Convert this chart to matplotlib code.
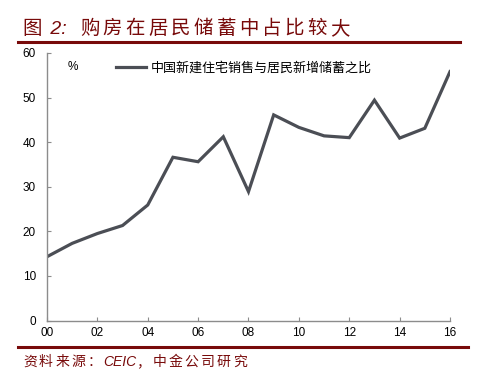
import matplotlib
matplotlib.use("Agg")
import matplotlib.pyplot as plt
from matplotlib.lines import Line2D

plt.rcParams['font.family'] = ['Liberation Sans', 'Noto Sans CJK SC', 'DejaVu Sans']

years = list(range(2000, 2017))
ratio = [14.3, 17.3, 19.5, 21.3, 25.9, 36.6, 35.6, 41.2, 28.9, 46.1,
         43.3, 41.4, 41.0, 49.4, 40.9, 43.1, 55.8]
xtick_years = list(range(2000, 2017, 2))
xtick_labels = ['00', '02', '04', '06', '08', '10', '12', '14', '16']
yticks = [0, 10, 20, 30, 40, 50, 60]

title = '图 2:  购房在居民储蓄中占比较大'
legend_label = '中国新建住宅销售与居民新增储蓄之比'
source = '资料来源：CEIC，中金公司研究'

dark_red = '#780A0A'
line_gray = '#4B4E55'
axis_gray = '#8C8C8C'

fig = plt.figure(figsize=(4.91, 3.85), dpi=100)
renderer = fig.canvas.get_renderer()
W, H = fig.bbox.width, fig.bbox.height


def spaced_text(x_px, y_px, s, extra, latin_gap, **kw):
    # CJK characters one by one with extra spacing, latin runs in one piece (italic)
    runs = []
    for ch in s:
        latin = ord(ch) < 256
        if latin and runs and runs[-1][0]:
            runs[-1][1] += ch
        else:
            runs.append([latin, ch])
    x = x_px
    for latin, txt in runs:
        if latin:
            t = fig.text(x / W, 1 - y_px / H, txt, va='baseline', ha='left',
                         style='italic', family='Liberation Sans', **kw)
            x += t.get_window_extent(renderer).width + latin_gap
        else:
            t = fig.text(x / W, 1 - y_px / H, txt, va='baseline', ha='left',
                         family='Noto Sans CJK SC', **kw)
            x += t.get_window_extent(renderer).width + extra


ax = fig.add_axes([0.0957, 0.1675, 0.8208, 0.6951])

ax.plot(years, ratio, color=line_gray, lw=2.3, solid_joinstyle='miter')
ax.set_xlim(2000, 2016)
ax.set_ylim(0, 60)
ax.set_xticks(xtick_years)
ax.set_xticklabels(xtick_labels)
ax.set_yticks(yticks)

for s in ['top', 'right']:
    ax.spines[s].set_visible(False)
for s in ['left', 'bottom']:
    ax.spines[s].set_color(axis_gray)
    ax.spines[s].set_linewidth(1.0)
ax.tick_params(direction='in', length=3, color=axis_gray, labelsize=8.5,
               labelcolor='black', pad=5)
ax.tick_params(axis='y', pad=8)

ax.text(0.05, 0.97, '%', transform=ax.transAxes, fontsize=8.5, va='top')

ax.legend([Line2D([], [], color=line_gray, lw=2.3)], [legend_label],
          loc='upper left', bbox_to_anchor=(0.143, 1.01), frameon=False,
          handlelength=2.3, handletextpad=0.35,
          prop={'family': ['Noto Sans CJK SC'], 'size': 9.4})

# header and footer
spaced_text(22, 34, title, 3.2, 3, color=dark_red, fontsize=14)
fig.add_artist(Line2D([0.037, 0.937], [0.891, 0.891], color=dark_red, lw=2.2))
fig.add_artist(Line2D([0.037, 0.953], [0.099, 0.099], color=dark_red, lw=2.2))
spaced_text(23, 366, source, 2.2, 0, color=dark_red, fontsize=10)

fig.savefig('out.png', dpi=100)
